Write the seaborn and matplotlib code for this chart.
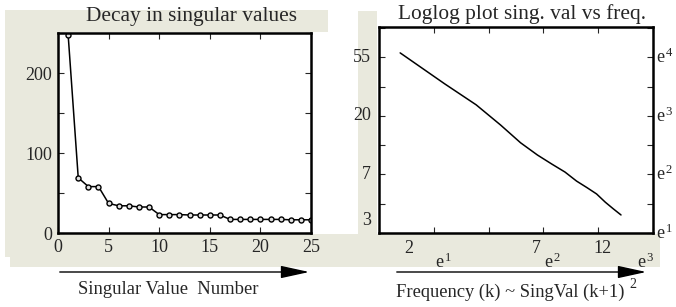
import numpy as np
import pandas as pd
import matplotlib
matplotlib.use("Agg")
import matplotlib.pyplot as plt
from matplotlib.patches import Rectangle, FancyArrowPatch
from matplotlib.ticker import FixedLocator, NullLocator, NullFormatter
import matplotlib.transforms as mtransforms
import seaborn as sns

# ---- data ----
sv_number = list(range(1, 26))
sv_value = [248, 69, 58, 58, 37, 34, 34, 32.5, 32.5, 23, 23, 23, 22.5, 22.5,
            22.5, 22.5, 17, 17, 17, 17, 17, 17, 16.5, 16.5, 16.5]

freq_k = [2, 3, 4, 5, 6, 7, 8, 9, 10, 11, 12, 13, 14, 15]
freq_val = [59, 34.8, 24.3, 17.2, 12.7, 10.3, 8.8, 7.7, 6.6, 5.9, 5.3, 4.6, 4.1, 3.7]

left_xticks = [0, 5, 10, 15, 20, 25]
left_yticks = [0, 100, 200]
right_top_labels = [2, 7, 12]
right_left_labels = ["55", "20", "7"]
right_left_pos = [4, 3, 2]
right_exp_labels = [1, 2, 3, 4]

sns.set_style("ticks")
plt.rcParams["font.family"] = ["Liberation Serif", "DejaVu Serif"]
plt.rcParams["mathtext.fontset"] = "custom"
plt.rcParams["mathtext.rm"] = "Liberation Serif"
plt.rcParams["mathtext.it"] = "Liberation Serif:italic"

W, H = 676, 307
fig = plt.figure(figsize=(W / 100, H / 100), dpi=100)
fig.patch.set_facecolor("white")
BEIGE = "#e9e9dd"


def px_rect(x0, y0, x1, y1):
    return Rectangle((x0 / W, 1 - y1 / H), (x1 - x0) / W, (y1 - y0) / H,
                     transform=fig.transFigure, facecolor=BEIGE,
                     edgecolor="none", zorder=0)


for r in [(5, 10, 328, 32), (5, 10, 58, 257), (10, 234, 660, 267), (358, 11, 377, 234)]:
    fig.add_artist(px_rect(*r))


def ax_rect(x0, y0, x1, y1):
    return [x0 / W, 1 - y1 / H, (x1 - x0) / W, (y1 - y0) / H]


TICKFS = 13

# ---- left panel ----
ax1 = fig.add_axes(ax_rect(58, 33, 311, 233))
ax1.set_zorder(2)
sns.lineplot(x=sv_number, y=sv_value, ax=ax1, color="black", lw=1.1,
             marker="o", markersize=3.6, markerfacecolor="#e0e0e0",
             markeredgecolor="black", markeredgewidth=1.0)
ax1.set_xlim(0, 25)
ax1.set_ylim(0, 250)
ax1.xaxis.set_major_locator(FixedLocator(left_xticks))
ax1.yaxis.set_major_locator(FixedLocator(list(range(0, 251, 50))))
ax1.set_xticklabels([str(t) for t in left_xticks], fontsize=TICKFS)
ax1.set_yticklabels([str(t) if t in left_yticks else "" for t in range(0, 251, 50)],
                    fontsize=TICKFS)
ax1.tick_params(direction="in", length=4, width=0.8, top=True, right=True, pad=4)
for s in ax1.spines.values():
    s.set_linewidth(1.8)
    s.set_color("black")
ax1.set_xlabel("")
ax1.set_ylabel("")

fig.text(192 / W, 1 - 17 / H, "Decay in singular values", ha="center", va="center",
         fontsize=15.4)

# ---- right panel ----
ax2 = fig.add_axes(ax_rect(379, 27, 653, 233))
ax2.set_zorder(2)
sns.lineplot(x=freq_k, y=freq_val, ax=ax2, color="black", lw=1.1)
ax2.set_xscale("log", base=np.e)
ax2.set_yscale("log", base=np.e)
ax2.set_xlim(np.exp(0.5), np.exp(3.0))
ax2.set_ylim(np.exp(1.0), np.exp(4.52))
ax2.xaxis.set_major_locator(FixedLocator(np.exp(np.arange(0.5, 3.01, 0.5))))
ax2.yaxis.set_major_locator(FixedLocator(np.exp(np.arange(1.0, 4.51, 0.5))))
ax2.xaxis.set_minor_locator(NullLocator())
ax2.yaxis.set_minor_locator(NullLocator())
ax2.xaxis.set_major_formatter(NullFormatter())
ax2.yaxis.set_major_formatter(NullFormatter())
ax2.tick_params(direction="in", length=4, width=0.8, top=True, right=True)
for s in ax2.spines.values():
    s.set_linewidth(1.8)
    s.set_color("black")
ax2.set_xlabel("")
ax2.set_ylabel("")

bx = mtransforms.blended_transform_factory(ax2.transData, ax2.transAxes)
by = mtransforms.blended_transform_factory(ax2.transAxes, ax2.transData)
for v, shift in zip(right_top_labels, [1.085, 0.985, 1.06]):
    ax2.text(v * shift, -0.035, str(v), transform=bx, ha="center", va="top",
             fontsize=TICKFS)
for e in [1, 2, 3]:
    ax2.text(np.exp(e) * 1.01, -0.095, "e$^{\\,%d}$" % e, transform=bx,
             ha="left" if e < 3 else "right", va="top", fontsize=TICKFS)
for lab, e in zip(right_left_labels, right_left_pos):
    ax2.text(-0.03, np.exp(e), lab, transform=by, ha="right", va="center",
             fontsize=TICKFS)
ax2.text(-0.03, np.exp(1.22), "3", transform=by, ha="right", va="center",
         fontsize=TICKFS)
for e in right_exp_labels:
    ax2.text(1.01, np.exp(e), "e$^{\\,%d}$" % e, transform=by, ha="left",
             va="center", fontsize=TICKFS)

fig.text(522 / W, 1 - 14 / H, "Loglog plot sing. val vs freq.", ha="center",
         va="center", fontsize=15.4)

# ---- arrows and axis captions ----
for x0, x1 in [(57, 312), (394, 649)]:
    arr = FancyArrowPatch((x0 / W, 1 - 272 / H), (x1 / W, 1 - 272 / H),
                          transform=fig.transFigure,
                          arrowstyle="-|>,head_length=1.6,head_width=0.35",
                          mutation_scale=11, lw=1.0, color="black")
    fig.add_artist(arr)

fig.text(168 / W, 1 - 290 / H, "Singular Value  Number", ha="center", va="center",
         fontsize=13.4)
fig.text(510 / W, 1 - 292 / H, "Frequency (k) ~ SingVal (k+1)", ha="center",
         va="center", fontsize=13.3)
fig.text(633 / W, 1 - 284 / H, "2", ha="center", va="center", fontsize=10)

fig.savefig("out.png", dpi=100, facecolor="white")
